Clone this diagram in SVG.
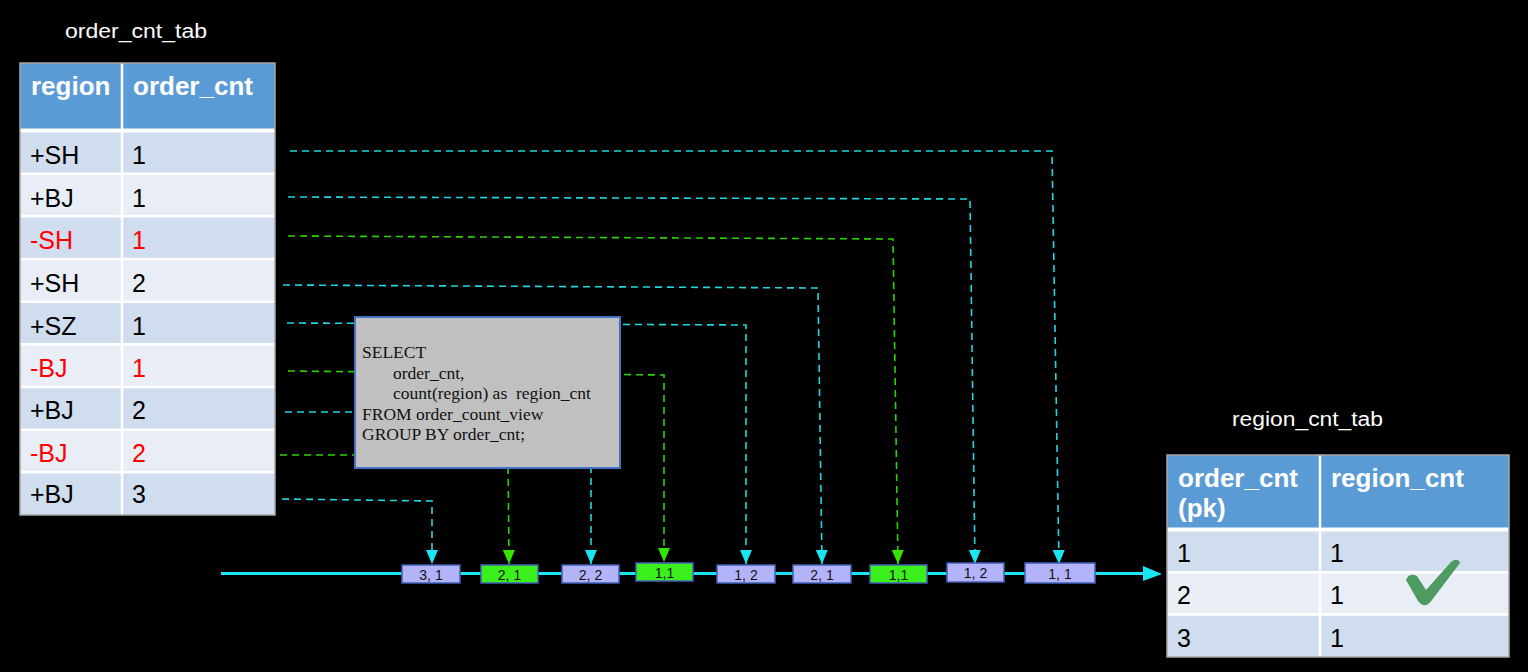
<svg xmlns="http://www.w3.org/2000/svg" width="1528" height="672" viewBox="0 0 1528 672">
<style>
.title{font-family:"Liberation Sans",Arial,sans-serif;font-size:20px;fill:#fff}
.hd{font-family:"Liberation Sans",Arial,sans-serif;font-size:26px;font-weight:bold;fill:#fff}
.cell{font-family:"Liberation Sans",Arial,sans-serif;font-size:25px;fill:#000}
.neg{fill:#ff0000}
.rowA{fill:#d0ddee}
.rowB{fill:#e9eef6}
.hdr{fill:#5b9bd5}
.grid{stroke:#fff;stroke-width:2.5}
.outer{fill:none;stroke:#a6a6a6;stroke-width:1.5}
.dc{fill:none;stroke:#20d8e0;stroke-width:1.6;stroke-dasharray:7 5}
.dg{fill:none;stroke:#2ad400;stroke-width:1.6;stroke-dasharray:7 5}
.sql{font-family:"Liberation Serif","Times New Roman",serif;font-size:17.5px;fill:#111}
.ev{stroke:#4060b8;stroke-width:1.5}
.lav{fill:#b3b3fa}
.grn{fill:#3cf01e}
.evt{font-family:"Liberation Sans",Arial,sans-serif;font-size:14px;fill:#111;text-anchor:middle}
</style>
<defs>
<marker id="ac" markerUnits="userSpaceOnUse" markerWidth="14" markerHeight="12" refX="14" refY="6" orient="auto" viewBox="0 0 14 12"><path d="M0,0 L14,6 L0,12 z" fill="#19e6f0"/></marker>
<marker id="ag" markerUnits="userSpaceOnUse" markerWidth="14" markerHeight="12" refX="14" refY="6" orient="auto" viewBox="0 0 14 12"><path d="M0,0 L14,6 L0,12 z" fill="#33e600"/></marker>
</defs>
<rect x="0" y="0" width="1528" height="672" fill="#000"/>

<g id="order_cnt_tab">
<text class="title" x="65" y="38" textLength="142" lengthAdjust="spacingAndGlyphs">order_cnt_tab</text>
<rect class="hdr" x="20" y="63" width="255" height="68"/>
<rect class="rowA" x="20" y="131" width="255" height="42.7"/>
<rect class="rowB" x="20" y="173.7" width="255" height="42.6"/>
<rect class="rowA" x="20" y="216.3" width="255" height="42.7"/>
<rect class="rowB" x="20" y="259" width="255" height="42.7"/>
<rect class="rowA" x="20" y="301.7" width="255" height="42.6"/>
<rect class="rowB" x="20" y="344.3" width="255" height="42.7"/>
<rect class="rowA" x="20" y="387" width="255" height="42.7"/>
<rect class="rowB" x="20" y="429.7" width="255" height="42.6"/>
<rect class="rowA" x="20" y="472.3" width="255" height="42.7"/>
<g class="grid">
<line x1="20" y1="130.5" x2="275" y2="130.5" stroke-width="4"/>
<line x1="20" y1="173.7" x2="275" y2="173.7"/>
<line x1="20" y1="216.3" x2="275" y2="216.3"/>
<line x1="20" y1="259" x2="275" y2="259"/>
<line x1="20" y1="301.7" x2="275" y2="301.7"/>
<line x1="20" y1="344.3" x2="275" y2="344.3"/>
<line x1="20" y1="387" x2="275" y2="387"/>
<line x1="20" y1="429.7" x2="275" y2="429.7"/>
<line x1="20" y1="472.3" x2="275" y2="472.3"/>
<line x1="122" y1="63" x2="122" y2="515"/>
</g>
<rect class="outer" x="20" y="63" width="255" height="452"/>
<text class="hd" x="31" y="95">region</text>
<text class="hd" x="133" y="95">order_cnt</text>
<text class="cell" x="30" y="164">+SH</text><text class="cell" x="132" y="164">1</text>
<text class="cell" x="30" y="207">+BJ</text><text class="cell" x="132" y="207">1</text>
<text class="cell neg" x="30" y="249">-SH</text><text class="cell neg" x="132" y="249">1</text>
<text class="cell" x="30" y="292">+SH</text><text class="cell" x="132" y="292">2</text>
<text class="cell" x="30" y="335">+SZ</text><text class="cell" x="132" y="335">1</text>
<text class="cell neg" x="30" y="377">-BJ</text><text class="cell neg" x="132" y="377">1</text>
<text class="cell" x="30" y="419">+BJ</text><text class="cell" x="132" y="419">2</text>
<text class="cell neg" x="30" y="462">-BJ</text><text class="cell neg" x="132" y="462">2</text>
<text class="cell" x="30" y="503">+BJ</text><text class="cell" x="132" y="503">3</text>
</g>

<g id="connectors">
<polyline class="dc" points="290,151 1052,151 1059,564" marker-end="url(#ac)"/>
<polyline class="dc" points="288,197 970,199 975,564" marker-end="url(#ac)"/>
<polyline class="dg" points="288,236 893,239 898,564" marker-end="url(#ag)"/>
<polyline class="dc" points="283,285 818,288 822,564" marker-end="url(#ac)"/>
<polyline class="dc" points="287,323 746,325 746,564" marker-end="url(#ac)"/>
<polyline class="dg" points="288,371 664,375 664,562" marker-end="url(#ag)"/>
<polyline class="dc" points="285,412 591,412 591,564" marker-end="url(#ac)"/>
<polyline class="dg" points="280,455 508,455 509,564" marker-end="url(#ag)"/>
<polyline class="dc" points="282,499 432,501 432,564" marker-end="url(#ac)"/>
<line x1="221" y1="573.5" x2="1146" y2="573.5" stroke="#19e6f0" stroke-width="3"/>
<path d="M1143,566 L1162,574 L1143,581 z" fill="#19e6f0"/>
</g>

<g id="sql_query">
<rect x="355" y="317" width="265" height="151" fill="#c0c0c0" stroke="#4472c4" stroke-width="2"/>
<text class="sql" x="362" y="358">SELECT</text>
<text class="sql" x="393" y="379">order_cnt,</text>
<text class="sql" x="393" y="399" xml:space="preserve">count(region) as  region_cnt</text>
<text class="sql" x="362" y="420">FROM order_count_view</text>
<text class="sql" x="362" y="440">GROUP BY order_cnt;</text>
</g>

<g id="event_1"><rect class="ev lav" x="402" y="565" width="58" height="18"/><text class="evt" x="431" y="580">3, 1</text></g>
<g id="event_2"><rect class="ev grn" x="481" y="565" width="57" height="18"/><text class="evt" x="509.5" y="580">2, 1</text></g>
<g id="event_3"><rect class="ev lav" x="562" y="565" width="57" height="18"/><text class="evt" x="590.5" y="580">2, 2</text></g>
<g id="event_4"><rect class="ev grn" x="636" y="563" width="57" height="18"/><text class="evt" x="664.5" y="578">1,1</text></g>
<g id="event_5"><rect class="ev lav" x="717" y="565" width="58" height="18"/><text class="evt" x="746" y="580">1, 2</text></g>
<g id="event_6"><rect class="ev lav" x="793" y="565" width="58" height="18"/><text class="evt" x="822" y="580">2, 1</text></g>
<g id="event_7"><rect class="ev grn" x="870" y="565" width="57" height="18"/><text class="evt" x="898.5" y="580">1,1</text></g>
<g id="event_8"><rect class="ev lav" x="947" y="563" width="57" height="19"/><text class="evt" x="975.5" y="578">1, 2</text></g>
<g id="event_9"><rect class="ev lav" x="1025" y="563" width="70" height="20"/><text class="evt" x="1060" y="579">1, 1</text></g>

<g id="region_cnt_tab">
<text class="title" x="1232" y="426" textLength="151" lengthAdjust="spacingAndGlyphs">region_cnt_tab</text>
<rect class="hdr" x="1167" y="455" width="342" height="75"/>
<rect class="rowA" x="1167" y="530" width="342" height="42.3"/>
<rect class="rowB" x="1167" y="572.3" width="342" height="42.3"/>
<rect class="rowA" x="1167" y="614.6" width="342" height="42.4"/>
<g class="grid">
<line x1="1167" y1="529.5" x2="1509" y2="529.5" stroke-width="4"/>
<line x1="1167" y1="572.3" x2="1509" y2="572.3"/>
<line x1="1167" y1="614.6" x2="1509" y2="614.6"/>
<line x1="1320" y1="455" x2="1320" y2="657"/>
</g>
<rect class="outer" x="1167" y="455" width="342" height="202"/>
<text class="hd" x="1178" y="487">order_cnt</text>
<text class="hd" x="1178" y="517">(pk)</text>
<text class="hd" x="1331" y="487">region_cnt</text>
<text class="cell" x="1177" y="562">1</text><text class="cell" x="1330" y="562">1</text>
<text class="cell" x="1177" y="604">2</text><text class="cell" x="1330" y="604">1</text>
<text class="cell" x="1177" y="647">3</text><text class="cell" x="1330" y="647">1</text>
<path id="checkmark" d="M1406,580 Q1409,572 1417,576 L1426,590 L1451,562 Q1458,557 1460,563 L1432,600 Q1425,610 1418,601 Z" fill="#4e9a63"/>
</g>
</svg>
